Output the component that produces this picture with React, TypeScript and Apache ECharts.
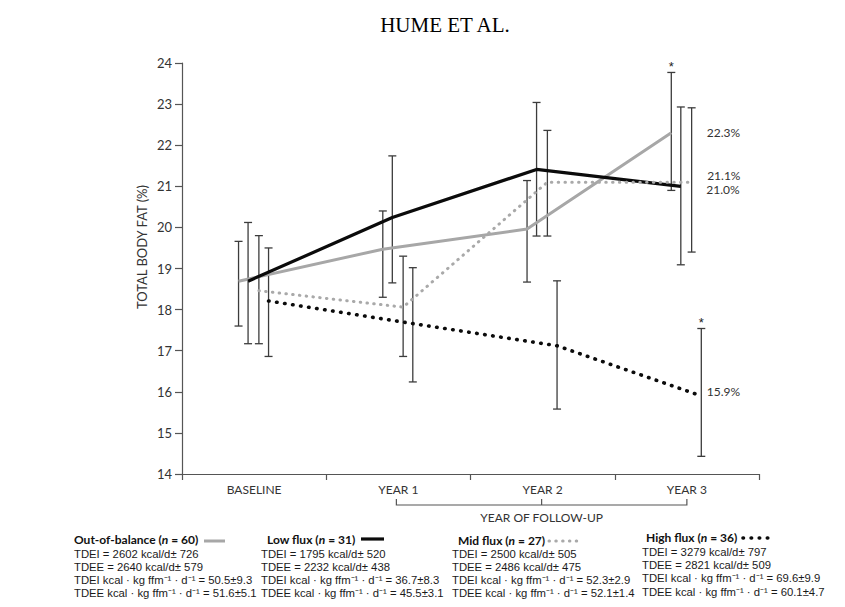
import React, { useEffect, useRef } from 'react';
import * as echarts from 'echarts';

// ---------- DATA ----------
const categories = ['BASELINE', 'YEAR 1', 'YEAR 2', 'YEAR 3'];
const yMin = 14;
const yMax = 24;
const yInterval = 1;

const groupNames = ['Out-of-balance', 'Low flux', 'Mid flux', 'High flux'];
const groupN = [60, 31, 27, 36];

const outOfBalanceMean = [18.69, 19.47, 19.96, 22.3];
const outOfBalanceLow = [17.6, 18.3, 18.67, 20.9];
const outOfBalanceHigh = [19.66, 20.4, 21.14, 23.77];
const outOfBalanceStar = [false, false, false, true];

const lowFluxMean = [18.69, 20.24, 21.41, 21.0];
const lowFluxLow = [17.17, 18.65, 19.79, 19.09];
const lowFluxHigh = [20.12, 21.74, 23.04, 22.93];
const lowFluxStar = [false, false, false, false];

const midFluxMean = [18.46, 18.06, 21.1, 21.1];
const midFluxLow = [17.17, 16.86, 19.79, 19.4];
const midFluxHigh = [19.8, 19.3, 22.36, 22.91];
const midFluxStar = [false, false, false, false];

const highFluxMean = [18.21, 17.66, 17.12, 15.9];
const highFluxLow = [16.86, 16.24, 15.58, 14.43];
const highFluxHigh = [19.5, 19.02, 18.7, 17.54];
const highFluxStar = [false, false, false, true];

const tdei = [2602, 1795, 2500, 3279];
const tdeiSd = [726, 520, 505, 797];
const tdee = [2640, 2232, 2486, 2821];
const tdeeSd = [579, 438, 475, 509];
const tdeiPerFfm = [50.5, 36.7, 52.3, 69.6];
const tdeiPerFfmSd = [9.3, 8.3, 2.9, 9.9];
const tdeePerFfm = [51.6, 45.5, 52.1, 60.1];
const tdeePerFfmSd = [5.1, 3.1, 1.4, 4.7];

const titleText = 'HUME ET AL.';
const yAxisName = 'TOTAL BODY FAT (%)';
const bracketName = 'YEAR OF FOLLOW-UP';

// ---------- STYLE ----------
const means = [outOfBalanceMean, lowFluxMean, midFluxMean, highFluxMean];
const lows = [outOfBalanceLow, lowFluxLow, midFluxLow, highFluxLow];
const highs = [outOfBalanceHigh, lowFluxHigh, midFluxHigh, highFluxHigh];
const stars = [outOfBalanceStar, lowFluxStar, midFluxStar, highFluxStar];

const xOffsets = [-0.108, -0.042, 0.033, 0.1];
const lineStyles = [
  { color: '#a7a7a7', width: 3, type: 'solid', cap: 'butt' },
  { color: '#0b0b0b', width: 3.2, type: 'solid', cap: 'butt' },
  { color: '#a9a9a9', width: 3, type: [0.5, 6.3], cap: 'round' },
  { color: '#0b0b0b', width: 3.6, type: [0.5, 7.6], cap: 'round' },
];
const endLabelDistance = [35, 25, 15, 5];
const endLabelDy = [0, 3, -7, -4];

const AXIS_FONT = 'Lato, "Open Sans", sans-serif';
const BODY_FONT = '"Liberation Sans", Arial, sans-serif';

export default function App() {
  const ref = useRef<HTMLDivElement>(null);

  useEffect(() => {
    if (!ref.current) return;
    const chart = echarts.init(ref.current, undefined, { renderer: 'svg' });

    const lineSeries = means.map((m, g) => ({
      type: 'line',
      name: groupNames[g],
      xAxisIndex: 1,
      yAxisIndex: 0,
      z: 3,
      symbol: 'circle',
      symbolSize: 1,
      showSymbol: true,
      silent: true,
      lineStyle: {
        color: lineStyles[g].color,
        width: lineStyles[g].width,
        type: lineStyles[g].type as any,
        cap: lineStyles[g].cap as any,
      },
      itemStyle: { color: 'rgba(0,0,0,0)', borderWidth: 0 },
      data: m.map((v, i) => {
        const item: any = { value: [i + xOffsets[g], v] };
        if (i === m.length - 1) {
          item.label = {
            show: true,
            position: 'right',
            distance: endLabelDistance[g],
            offset: [0, endLabelDy[g]],
            formatter: () => v.toFixed(1) + '%',
            fontFamily: AXIS_FONT,
            fontSize: 12,
            color: '#333',
          };
        }
        return item;
      }),
    }));

    const errData: any[] = [];
    means.forEach((m, g) => {
      m.forEach((_, i) => {
        errData.push([i + xOffsets[g], lows[g][i], highs[g][i], stars[g][i] ? 1 : 0]);
      });
    });

    const errorSeries = {
      type: 'custom',
      xAxisIndex: 1,
      yAxisIndex: 0,
      z: 2,
      silent: true,
      encode: { x: 0, y: [1, 2] },
      data: errData,
      renderItem: (params: any, api: any) => {
        const x = api.value(0);
        const lo = api.value(1);
        const hi = api.value(2);
        const star = api.value(3);
        const p1 = api.coord([x, hi]);
        const p2 = api.coord([x, lo]);
        const w = 4;
        const st = { stroke: '#3c3c3c', lineWidth: 1.3 };
        const children: any[] = [
          { type: 'line', shape: { x1: p1[0], y1: p1[1], x2: p2[0], y2: p2[1] }, style: st },
          { type: 'line', shape: { x1: p1[0] - w, y1: p1[1], x2: p1[0] + w, y2: p1[1] }, style: st },
          { type: 'line', shape: { x1: p2[0] - w, y1: p2[1], x2: p2[0] + w, y2: p2[1] }, style: st },
        ];
        if (star) {
          children.push({
            type: 'text',
            x: p1[0],
            y: p1[1] - 6,
            style: {
              text: '*',
              textAlign: 'center',
              textVerticalAlign: 'middle',
              fontSize: 13,
              fontFamily: BODY_FONT,
              fill: '#222',
            },
          });
        }
        return { type: 'group', children };
      },
    };

    const option: any = {
      animation: false,
      backgroundColor: '#ffffff',
      grid: { left: 182, top: 63, right: 86, bottom: 133, containLabel: false },
      xAxis: [
        {
          type: 'category',
          data: categories,
          boundaryGap: true,
          axisLine: { show: true, onZero: false, lineStyle: { color: '#555', width: 1.2 } },
          axisTick: { show: true, length: 6, lineStyle: { color: '#555', width: 1.2 } },
          axisLabel: { color: '#333', fontSize: 12, fontFamily: AXIS_FONT, margin: 9 },
          splitLine: { show: false },
        },
        {
          type: 'value',
          min: -0.5,
          max: 3.5,
          show: false,
          axisLine: { show: false, onZero: false },
          splitLine: { show: false },
        },
      ],
      yAxis: {
        type: 'value',
        min: yMin,
        max: yMax,
        interval: yInterval,
        axisLine: { show: true, onZero: false, lineStyle: { color: '#555', width: 1.2 } },
        axisTick: { show: true, length: 7, lineStyle: { color: '#555', width: 1.2 } },
        axisLabel: { color: '#333', fontSize: 13, fontFamily: AXIS_FONT, margin: 10 },
        splitLine: { show: false },
      },
      series: [errorSeries, ...lineSeries],
    };

    chart.setOption(option);

    // positions derived from axes
    const px = (v: number) => chart.convertToPixel({ xAxisIndex: 1 }, v) as number;
    const py = (v: number) => chart.convertToPixel({ yAxisIndex: 0 }, v) as number;
    const xLeft = px(1) - 2;
    const xMid = px(2) - 1;
    const xRight = px(3);
    const yBr = py(yMin) + 31;

    const legendX = [74, 261, 452, 642];
    const headerX = [74, 267, 458, 646];
    const headerY = [539, 539, 540, 537];
    const swatch = [
      [204, 225, 541],
      [361, 384, 539],
      [549, 578, 541],
      [743, 775, 538],
    ];
    const bodyY0 = 553.5;
    const bodyDy = 13.2;

    const graphics: any[] = [
      {
        type: 'text',
        x: 445,
        y: 25,
        style: {
          text: titleText,
          textAlign: 'center',
          textVerticalAlign: 'middle',
          fontFamily: '"Liberation Serif", "Times New Roman", serif',
          fontSize: 21,
          fill: '#000',
        },
      },
      {
        type: 'text',
        x: 142,
        y: 247,
        rotation: Math.PI / 2,
        style: {
          text: yAxisName,
          textAlign: 'center',
          textVerticalAlign: 'middle',
          fontFamily: AXIS_FONT,
          fontSize: 13,
          fill: '#333',
        },
      },
      {
        type: 'polyline',
        shape: { points: [[xLeft, yBr - 6], [xLeft, yBr], [xRight, yBr], [xRight, yBr - 6]] },
        style: { stroke: '#555', lineWidth: 1.2, fill: 'none' },
      },
      {
        type: 'line',
        shape: { x1: xMid, y1: yBr, x2: xMid, y2: yBr - 6 },
        style: { stroke: '#555', lineWidth: 1.2 },
      },
      {
        type: 'text',
        x: xMid,
        y: yBr + 12,
        style: {
          text: bracketName,
          textAlign: 'center',
          textVerticalAlign: 'middle',
          fontFamily: AXIS_FONT,
          fontSize: 12,
          fill: '#333',
        },
      },
    ];

    groupNames.forEach((name, g) => {
      graphics.push({
        type: 'text',
        x: headerX[g],
        y: headerY[g],
        style: {
          text: `{b|${name} (}{i|n}{b| = ${groupN[g]})}`,
          textVerticalAlign: 'middle',
          rich: {
            b: { fontFamily: AXIS_FONT, fontWeight: 'bold', fontSize: 12, lineHeight: 12, fill: '#111' },
            i: { fontFamily: AXIS_FONT, fontWeight: 'bold', fontStyle: 'italic', fontSize: 12, lineHeight: 12, fill: '#111' },
          },
        },
      });
      const ls = lineStyles[g];
      graphics.push({
        type: 'line',
        shape: { x1: swatch[g][0], y1: swatch[g][2], x2: swatch[g][1], y2: swatch[g][2] },
        style: {
          stroke: ls.color,
          lineWidth: ls.width,
          lineDash: Array.isArray(ls.type) ? ls.type : null,
          lineCap: ls.cap,
        },
      });
      const lines = [
        `TDEI = ${tdei[g]} kcal/d± ${tdeiSd[g]}`,
        `TDEE = ${tdee[g]} kcal/d± ${tdeeSd[g]}`,
        `TDEI kcal · kg ffm⁻¹ · d⁻¹ = ${tdeiPerFfm[g].toFixed(1)}±${tdeiPerFfmSd[g].toFixed(1)}`,
        `TDEE kcal · kg ffm⁻¹ · d⁻¹ = ${tdeePerFfm[g].toFixed(1)}±${tdeePerFfmSd[g].toFixed(1)}`,
      ];
      lines.forEach((t, k) => {
        graphics.push({
          type: 'text',
          x: legendX[g],
          y: bodyY0 + k * bodyDy - (g === 3 ? 1.5 : 0),
          style: {
            text: t,
            textVerticalAlign: 'middle',
            fontFamily: BODY_FONT,
            fontSize: 11.3,
            lineHeight: 12,
            fill: '#1a1a1a',
          },
        });
      });
    });

    chart.setOption({ graphic: graphics });

    return () => chart.dispose();
  }, []);

  return (
    <div
      ref={ref}
      style={{ position: 'fixed', left: 0, top: 0, width: 845, height: 607, background: '#fff' }}
    />
  );
}
